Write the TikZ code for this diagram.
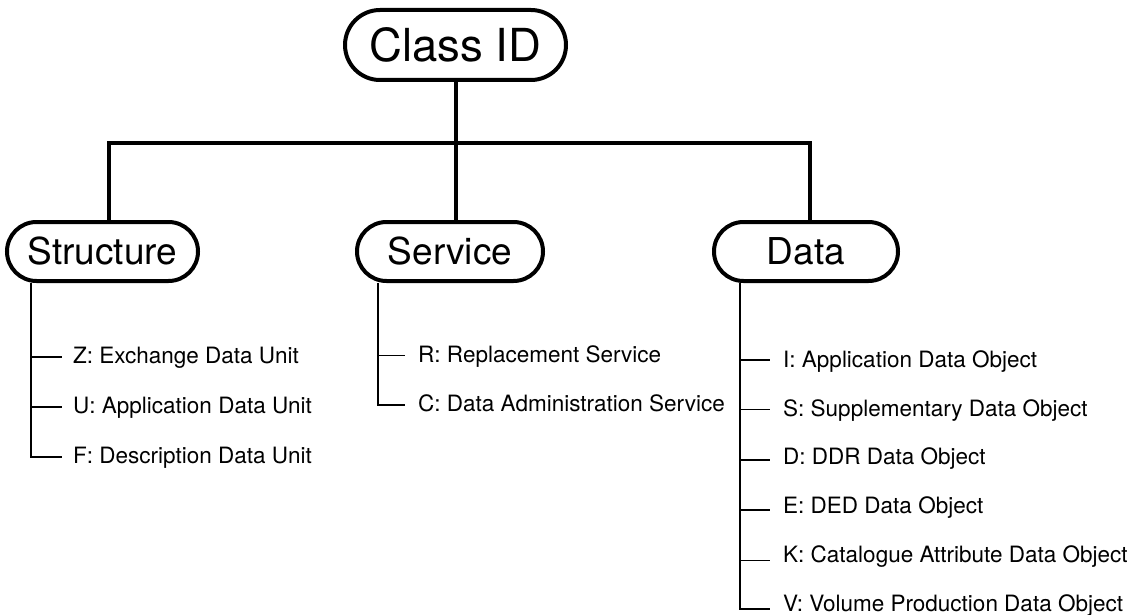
\documentclass[tikz,border=0pt]{standalone}
\usepackage{fontspec}
\setmainfont{TeX Gyre Heros}
\begin{document}
\begin{tikzpicture}[x=1pt,y=-1pt,
  cat/.style={draw, line width=4pt, rounded corners=29.5pt, minimum height=59pt, inner sep=0pt, font=\fontsize{37}{40}\selectfont},
  item/.style={anchor=west, inner sep=0pt, text height=22pt, text depth=5.8pt, font=\fontsize{22.5}{26}\selectfont},
  thickln/.style={line width=4pt},
  thinln/.style={line width=1.8pt}]
\useasboundingbox (0,0) rectangle (1133,615);
% category nodes
\node[cat, minimum width=221pt, minimum height=70pt, rounded corners=35pt, font=\fontsize{45.5}{50}\selectfont] (root) at (455.5,45) {Class ID};
\node[cat, minimum width=191pt] (sa) at (102.5,251.5) {Structure};
\node[cat, minimum width=186pt] (sv) at (450,251.5) {Service};
\node[cat, minimum width=184pt] (da) at (806,251.5) {Data};
% tree connectors
\coordinate (bar) at (455.5,143);
\draw[thickln] (root.south) -- (bar);
\draw[thickln] ([xshift=6.5pt]sa.north) |- (bar) -| ([xshift=4pt]da.north);
\draw[thickln] (bar) -- (bar |- sv.north);
% items
\node[item] (z) at (73,355.5) {Z: Exchange Data Unit};
\node[item] (u) at (73,405) {U: Application Data Unit};
\node[item] (f) at (73,455) {F: Description Data Unit};
\node[item] (r) at (418,354) {R: Replacement Service};
\node[item] (c) at (418,403.5) {C: Data Administration Service};
\node[item] (i) at (783,359) {I: Application Data Object};
\node[item] (s) at (783,408) {S: Supplementary Data Object};
\node[item] (d) at (783,456.5) {D: DDR Data Object};
\node[item] (e) at (783,505) {E: DED Data Object};
\node[item] (k) at (783,554) {K: Catalogue Attribute Data Object};
\node[item] (v) at (783,603) {V: Volume Production Data Object};
% tick end points
\coordinate (zt) at ([xshift=-11pt,yshift=-1.5pt]z.west);
\coordinate (ut) at ([xshift=-11pt,yshift=-2pt]u.west);
\coordinate (ft) at ([xshift=-11pt,yshift=-2pt]f.west);
\coordinate (rt) at ([xshift=-13pt,yshift=-1.5pt]r.west);
\coordinate (ct) at ([xshift=-13pt,yshift=-1.5pt]c.west);
\coordinate (it) at ([xshift=-13pt,yshift=-1pt]i.west);
\coordinate (st) at ([xshift=-13pt,yshift=-1.5pt]s.west);
\coordinate (dt) at ([xshift=-13pt,yshift=-3.5pt]d.west);
\coordinate (et) at ([xshift=-13pt,yshift=-5pt]e.west);
\coordinate (kt) at ([xshift=-13pt,yshift=-6.5pt]k.west);
\coordinate (vt) at ([xshift=-13pt,yshift=-6pt]v.west);
% branches
\coordinate (sb) at ([xshift=26pt]sa.south west);
\coordinate (vb) at ([xshift=23pt]sv.south west);
\coordinate (db) at ([xshift=28pt]da.south west);
\draw[thinln] (sb) |- (ft);
\draw[thinln] (sb |- zt) -- (zt);
\draw[thinln] (sb |- ut) -- (ut);
\draw[thinln] (vb) |- (ct);
\draw[thinln] (vb |- rt) -- (rt);
\draw[thinln] (db) |- (vt);
\foreach \n in {it,st,dt,et,kt}{
  \draw[thinln] (db |- \n) -- (\n);
}
\end{tikzpicture}
\end{document}
